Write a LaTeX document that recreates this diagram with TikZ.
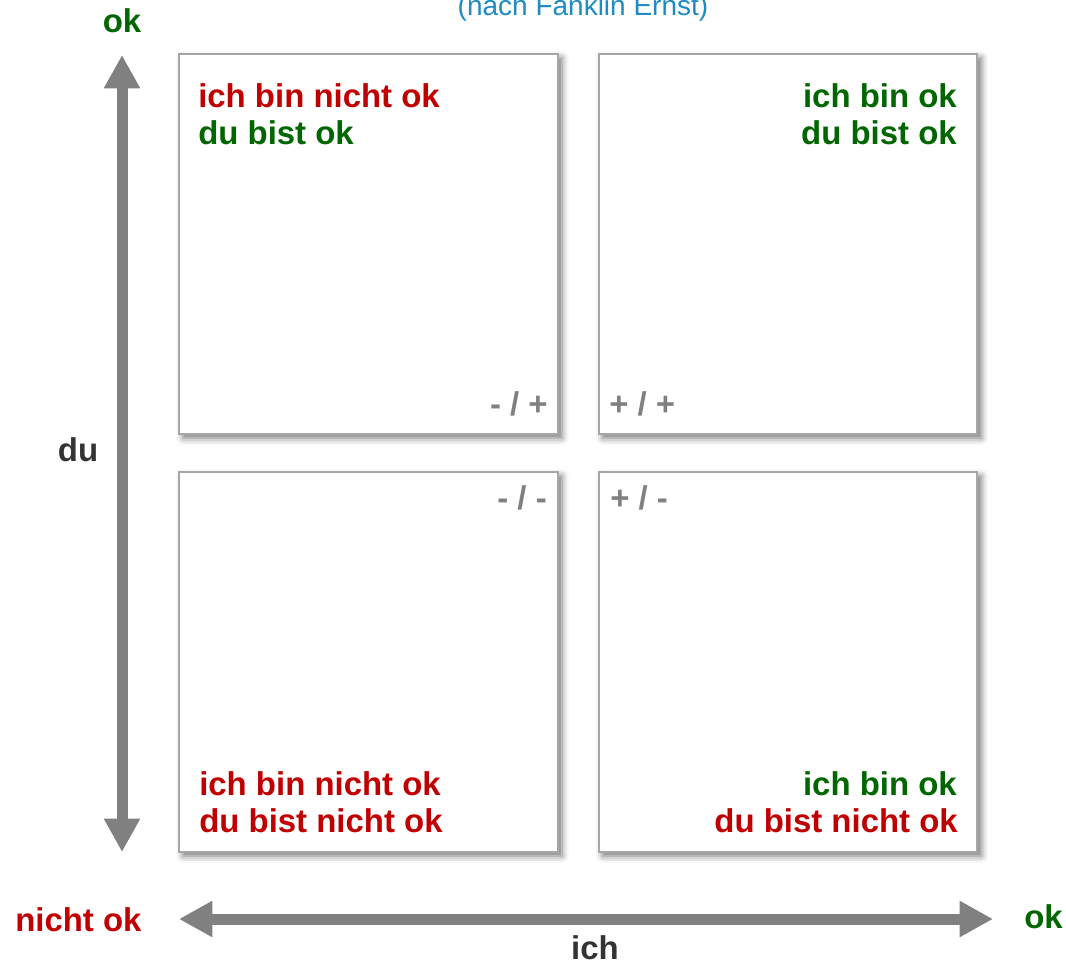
\documentclass[tikz,border=0pt]{standalone}
\usepackage{fontspec}
\setmainfont{Liberation Sans}
\usepackage{xcolor}
\usetikzlibrary{arrows.meta,positioning,shadows.blur}
\definecolor{okgreen}{HTML}{006600}
\definecolor{nokred}{HTML}{C00000}
\definecolor{axgray}{HTML}{808080}
\definecolor{lblgray}{HTML}{333333}
\definecolor{srcblue}{HTML}{1E8BC3}

\begin{document}
\begin{tikzpicture}[x=0.75pt,y=-0.75pt,
  every node/.style={font=\fontsize{24.7}{27}\selectfont\bfseries,inner sep=0pt},
  bx/.style={draw=gray!70,line width=1.5pt,fill=white,minimum width=284pt,minimum height=285pt,
    blur shadow={shadow xshift=3pt,shadow yshift=-3pt,shadow blur radius=5pt,shadow opacity=55}},
  ax/.style={draw=axgray,line width=8.25pt,{Triangle[length=25pt,width=25.5pt]}-{Triangle[length=25pt,width=25.5pt]}},
  ok/.style={text=okgreen},
  nok/.style={text=nokred},
  sgn/.style={text=axgray},
  axl/.style={text=lblgray}]
  \useasboundingbox (0,0) rectangle (1066,964);

  % source line, cut at the top
  \node[font=\fontsize{21}{24}\selectfont,text=srcblue,anchor=base] (src) at (583,15) {(nach Fanklin Ernst)};

  % quadrants
  \node[bx] (tl) at (368.5,244) {};
  \node[bx] (tr) at (788,244) {};
  \node[bx] (bl) at (368.5,662) {};
  \node[bx] (br) at (788,662) {};

  \node[nok,anchor=base west] (tl1) at (198,107) {ich bin nicht ok};
  \node[ok,anchor=base west] (tl2) at (198,144) {du bist ok};
  \node[sgn,anchor=base east] (tls) at (548,415) {- / +};

  \node[ok,anchor=base east] (tr1) at (957,107) {ich bin ok};
  \node[ok,anchor=base east] (tr2) at (957,144) {du bist ok};
  \node[sgn,anchor=base west] (trs) at (609,415) {+ / +};

  \node[sgn,anchor=base east] (bls) at (547,509) {- / -};
  \node[nok,anchor=base west] (bl1) at (199,795) {ich bin nicht ok};
  \node[nok,anchor=base west] (bl2) at (199,832) {du bist nicht ok};

  \node[sgn,anchor=base west] (brs) at (610,509) {+ / -};
  \node[ok,anchor=base east] (br1) at (957,795) {ich bin ok};
  \node[nok,anchor=base east] (br2) at (958,832) {du bist nicht ok};

  % axes
  \coordinate (ytop) at (122,55);
  \coordinate (ybot) at (122,852);
  \coordinate (xlft) at (179,919);
  \coordinate (xrgt) at (993,919);
  \draw[ax] (ybot) -- (ytop);
  \draw[ax] (xlft) -- (xrgt);

  \node[ok,anchor=base] (yok) at (122,32) {ok};
  \node[axl,anchor=base] (du) at (78,461) {du};
  \node[nok,anchor=base west] (xnok) at (15,931) {nicht ok};
  \node[ok,anchor=base west] (xok) at (1024,928) {ok};
  \node[axl,anchor=base] (ich) at (595,959) {ich};
\end{tikzpicture}
\end{document}
